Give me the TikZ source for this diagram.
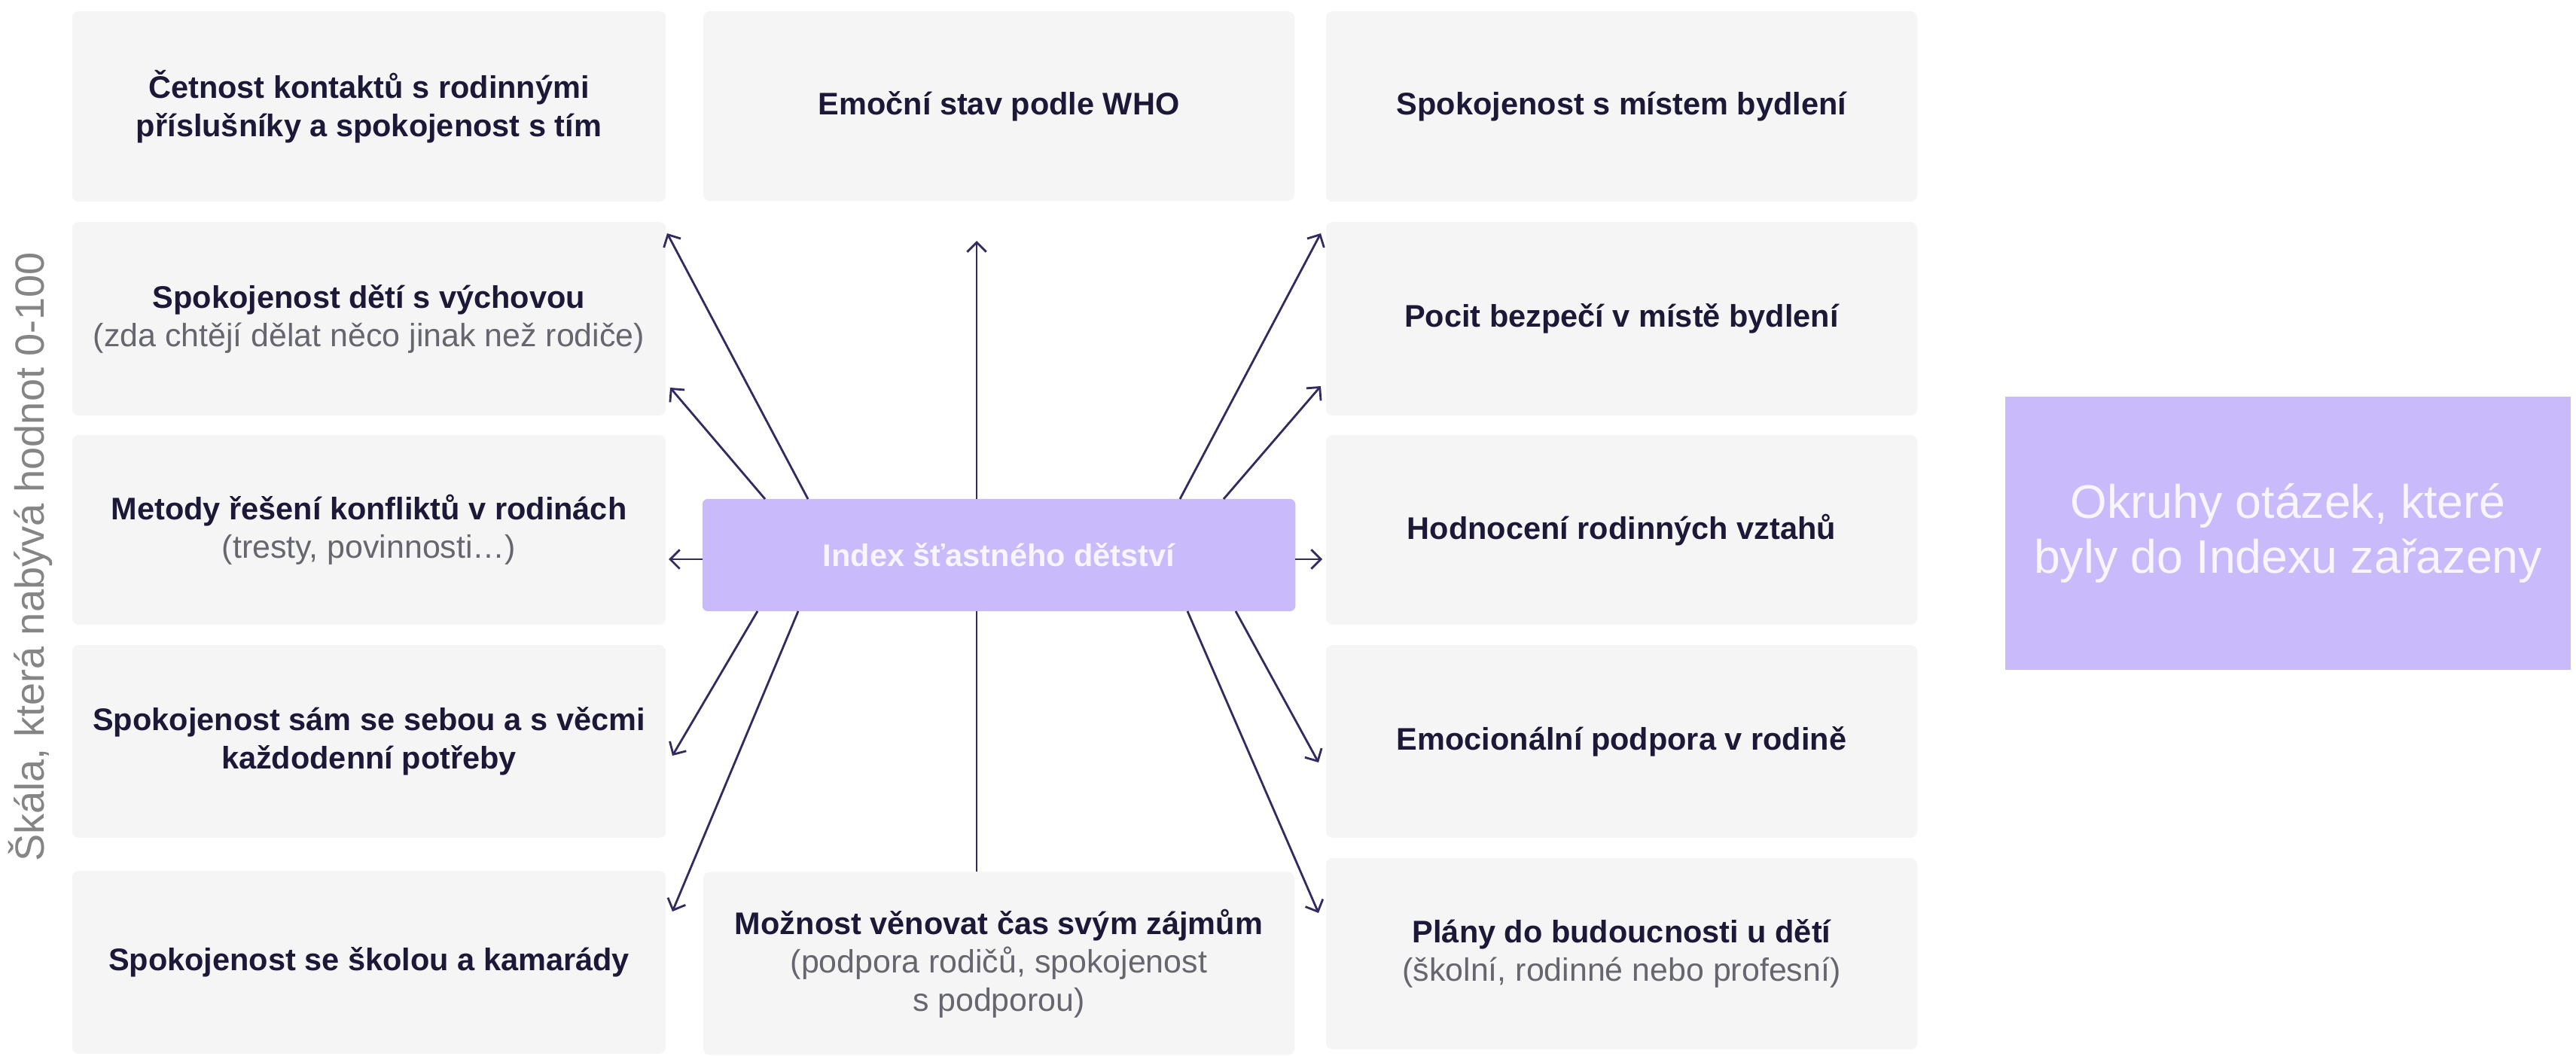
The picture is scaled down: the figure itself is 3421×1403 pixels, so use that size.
\documentclass[tikz,border=0pt]{standalone}
\usepackage{fontspec}
\setmainfont{Liberation Sans}
\usetikzlibrary{arrows.meta}
\definecolor{boxgray}{HTML}{F5F5F6}
\definecolor{ink}{HTML}{1B1838}
\definecolor{subgray}{HTML}{66666E}
\definecolor{lilac}{HTML}{C9BAFB}
\definecolor{arrowc}{HTML}{322B62}
\definecolor{paletext}{HTML}{F8F5FF}
\definecolor{scalegray}{HTML}{858585}
\newcommand{\subtxt}[1]{{\fontsize{12.2}{14.5}\selectfont\mdseries\color{subgray}#1}}
\begin{document}
\begin{tikzpicture}[x=0.01cm,y=-0.01cm,
  cell/.style={fill=boxgray, rounded corners=2.5pt, inner sep=0pt, align=center, text=ink,
    font=\fontsize{11.8}{14.5}\selectfont\bfseries},
  lcol/.style={cell, minimum width=7.88cm},
  mcol/.style={cell, minimum width=7.85cm},
  rcol/.style={cell, minimum width=7.85cm},
  hub/.style={fill=lilac, rounded corners=2pt, inner sep=0pt, minimum width=7.87cm, minimum height=1.49cm,
    text=paletext, font=\fontsize{11.8}{14.5}\selectfont\bfseries},
  legend/.style={fill=lilac, inner sep=0pt, minimum width=7.51cm, minimum height=3.63cm, align=center,
    text=paletext, font=\fontsize{17.8}{21}\selectfont},
  conn/.style={draw=arrowc, line width=0.8pt, -{Straight Barb[length=3.6pt,width=7.2pt,line width=0.8pt]}},
  plain/.style={draw=arrowc, line width=0.8pt}
]
\useasboundingbox (0,0) rectangle (3421,1403);

% left column
\node[lcol, minimum height=2.53cm] (l1) at (490,141.5) {Četnost kontaktů s rodinnými\\příslušníky a spokojenost s tím};
\node[lcol, minimum height=2.57cm] (l2) at (490,423.5) {Spokojenost dětí s výchovou\\\subtxt{(zda chtějí dělat něco jinak než rodiče)}};
\node[lcol, minimum height=2.52cm] (l3) at (490,704) {Metody řešení konfliktů v rodinách\\\subtxt{(tresty, povinnosti…)}};
\node[lcol, minimum height=2.56cm] (l4) at (490,985) {Spokojenost sám se sebou a s věcmi\\každodenní potřeby};
\node[lcol, minimum height=2.43cm] (l5) at (490,1278.5) {Spokojenost se školou a kamarády};

% middle column
\node[mcol, minimum height=2.52cm] (m1) at (1326.5,141) {Emoční stav podle WHO};
\node[mcol, minimum height=2.43cm] (m5) at (1326.5,1280) {Možnost věnovat čas svým zájmům\\\subtxt{(podpora rodičů, spokojenost}\\\subtxt{s podporou)}};

% right column
\node[rcol, minimum height=2.53cm] (r1) at (2153.5,141.5) {Spokojenost s místem bydlení};
\node[rcol, minimum height=2.57cm] (r2) at (2153.5,423.5) {Pocit bezpečí v místě bydlení};
\node[rcol, minimum height=2.52cm] (r3) at (2153.5,704) {Hodnocení rodinných vztahů};
\node[rcol, minimum height=2.56cm] (r4) at (2153.5,985) {Emocionální podpora v rodině};
\node[rcol, minimum height=2.54cm] (r5) at (2153.5,1267) {Plány do budoucnosti u dětí\\\subtxt{(školní, rodinné nebo profesní)}};

% hub
\node[hub] (idx) at (1326.5,737.5) {Index šťastného dětství};

% legend
\node[legend] (leg) at (3038.5,708.5) {Okruhy otázek, které\\byly do Indexu zařazeny};

% scale label
\node[rotate=90, text=scalegray, font=\fontsize{15.4}{18}\selectfont] (scale) at (40,740) {Škála, která nabývá hodnot 0-100};

% connector end points
\coordinate (sA) at (1073,663); \coordinate (tA) at (886,310);
\coordinate (sB) at (1016,663); \coordinate (tB) at (890,515);
\coordinate (sC) at (1006,812); \coordinate (tC) at (893,1004);
\coordinate (sD) at (1060,812); \coordinate (tD) at (893,1211);
\coordinate (sE) at (1567,663); \coordinate (tE) at (1754,310);
\coordinate (sF) at (1625,663); \coordinate (tF) at (1754,513);
\coordinate (sG) at (1641,812); \coordinate (tG) at (1751,1013);
\coordinate (sH) at (1577,812); \coordinate (tH) at (1751,1213);
\coordinate (sT) at (1297,663); \coordinate (tT) at (1297,320);
\coordinate (sU) at (1297,812);
\coordinate (sL) at (933,743); \coordinate (tL) at (888,743);
\coordinate (sR) at (1720,743); \coordinate (tR) at (1756,743);

\draw[conn] (sA) -- (tA);
\draw[conn] (sB) -- (tB);
\draw[conn] (sC) -- (tC);
\draw[conn] (sD) -- (tD);
\draw[conn] (sE) -- (tE);
\draw[conn] (sF) -- (tF);
\draw[conn] (sG) -- (tG);
\draw[conn] (sH) -- (tH);
\draw[conn] (sT) -- (tT);
\draw[plain] (sU) -- (sU |- m5.north);
\draw[conn] (sL) -- (tL);
\draw[conn] (sR) -- (tR);
\end{tikzpicture}
\end{document}
